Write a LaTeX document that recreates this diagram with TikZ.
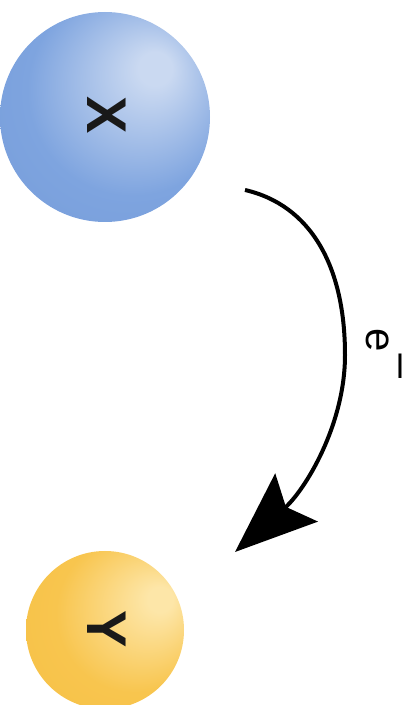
\documentclass[tikz,border=0pt]{standalone}
\usepackage{fontspec}
\setmainfont{Liberation Sans}
\usetikzlibrary{arrows.meta}
\definecolor{xhi}{RGB}{202,217,241}
\definecolor{xmid}{RGB}{126,164,223}
\definecolor{xedge}{RGB}{100,140,206}
\definecolor{yhi}{RGB}{253,230,168}
\definecolor{ymid}{RGB}{248,197,78}
\definecolor{yedge}{RGB}{241,184,52}
\pgfdeclareradialshading{xshade}{\pgfpoint{13bp}{12.5bp}}{color(0bp)=(xhi); color(4bp)=(xhi); color(25bp)=(xmid); color(38bp)=(xmid!75!xedge); color(50bp)=(xedge)}
\pgfdeclareradialshading{yshade}{\pgfpoint{19bp}{10.5bp}}{color(0bp)=(yhi); color(4bp)=(yhi); color(25bp)=(ymid); color(38bp)=(ymid!75!yedge); color(50bp)=(yedge)}
\tikzset{
  ballx/.style={circle, minimum size=210pt, inner sep=0pt, shading=xshade},
  bally/.style={circle, minimum size=158pt, inner sep=0pt, shading=yshade},
  lab/.style={font=\fontsize{56}{60}\selectfont\bfseries, rotate=-90, text=black!90},
  elab/.style={font=\fontsize{42}{46}\selectfont, rotate=-90, inner sep=0pt},
  flow/.style={line width=4pt, -{Stealth[length=82pt, width=64pt, inset=14pt]}}
}
\begin{document}
\begin{tikzpicture}[x=1pt,y=1pt]
\useasboundingbox (0,0) rectangle (415,705);
\begin{scope}
\clip (0,0) rectangle (415,705);
\node[ballx] (X) at (105,588) {};
\node[bally] (Y) at (105,75) {};
\end{scope}
\node[lab] (XL) at (107,590) {X};
\node[lab] (YL) at (107,76) {Y};
\coordinate (s) at (245,515);
\coordinate (t) at (235,153);
\draw[flow] (s) .. controls (310,500) and (345,440) .. (345,350) .. controls (345,280) and (305,215) .. (t);
\node[elab] (E) at (384,350) {e\raisebox{0.48em}{\scalebox{1.2}[1]{−}}};
\end{tikzpicture}
\end{document}
